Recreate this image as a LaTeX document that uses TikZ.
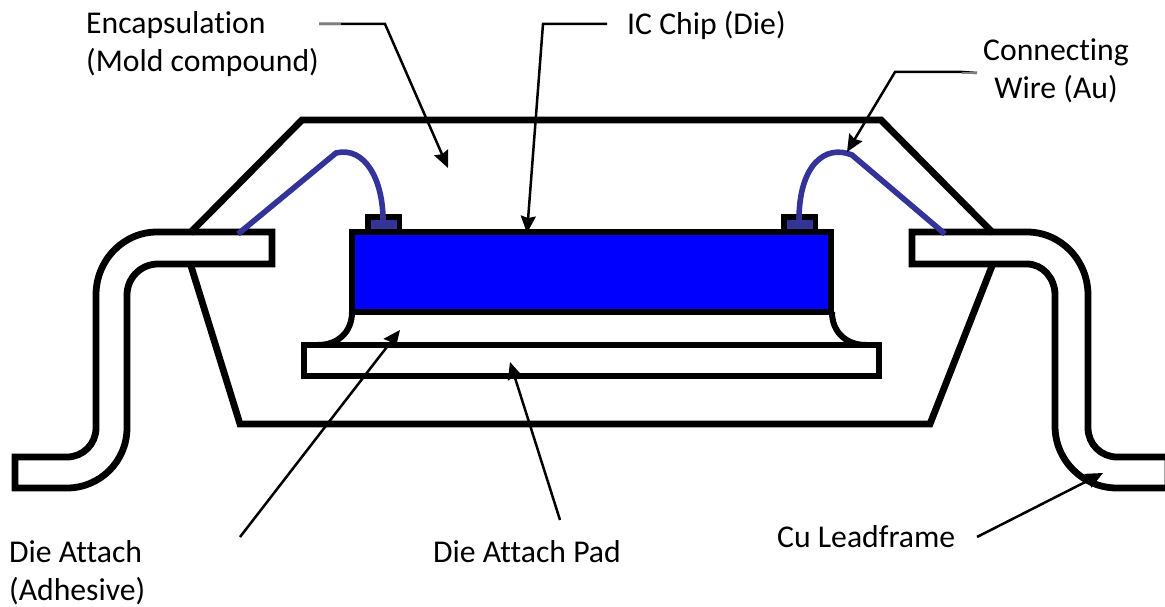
\documentclass[tikz,border=0pt]{standalone}
\usepackage{fontspec}
\usetikzlibrary{arrows.meta}
\setmainfont[Ligatures=CommonOff]{Carlito}
\begin{document}
\begin{tikzpicture}[x=1pt, y=-1pt, line join=miter, >=stealth,
	thick line/.style={line width=6.8pt, draw=black},
	wire/.style={line width=5.6pt, draw=wirecol},
	callout/.style={line width=2.5pt, draw=black, -{Stealth[length=17pt,width=15pt,inset=2pt]}},
	lbl/.style={font=\fontsize{31.7}{38.5}\selectfont, inner sep=0pt, align=left}]
	\definecolor{wirecol}{RGB}{51,51,153}
	\useasboundingbox (0,0) rectangle (1165,607);
	\fill[white] (0,0) rectangle (1165,607);
	% Mold
	\draw[thick line] (190,233)--(302,120)--(881,120)--(993,233);
	\draw[thick line] (191,266)--(240,424)--(930,424)--(992,266);
	% Pad, fillet
	\draw[thick line, fill=white] (304,345) rectangle (879,376);
	\draw[thick line, line width=6pt] (352,312) .. controls (352,332) and (338,345) .. (318,345);
	\draw[thick line, line width=6pt] (832,312) .. controls (832,332) and (846,345) .. (866,345);
	% Chip
	\draw[thick line, fill=black] (368,217) rectangle (399,232);
	\draw[thick line, fill=black] (784,217) rectangle (815,232);
	\draw[thick line, fill=blue] (352,232) rectangle (831,312);
	\fill[wirecol] (371,220) rectangle (397,229);
	\fill[wirecol] (787,220) rectangle (813,229);
	% Leads
	\draw[thick line] (157,264)--(272,264)--(272,232)--(157,232) arc[start angle=270, end angle=180, x radius=61, y radius=63] --(96,428) arc[start angle=0, end angle=90, radius=29] --(15,457)--(15,488)--(67,488) arc[start angle=90, end angle=0, radius=60] --(127,295) arc[start angle=180, end angle=270, radius=31] --cycle;
	\draw[thick line] (1027,264)--(912,264)--(912,232)--(1027,232) arc[start angle=270, end angle=360, x radius=61, y radius=63] --(1088,428) arc[start angle=180, end angle=90, radius=29] --(1168,457)--(1168,488)--(1117,488) arc[start angle=90, end angle=180, radius=62] --(1055,295) arc[start angle=0, end angle=-90, x radius=28, y radius=31] --cycle;
	% Wires
	\draw[wire] (238,234)--(336,153) .. controls (365,146) and (383,180) .. (383,220);
	\draw[wire] (945,234)--(852,155) .. controls (825,144) and (799,165) .. (799,220);
	% Labels
	\node[lbl, anchor=north west] (encap) at (86,11) {Encapsulation\\(Mold compound)};
	\node[lbl, anchor=north west] (chip) at (627,11) {IC Chip (Die)};
	\node[lbl, anchor=north, align=center] (wirelbl) at (1056,38) {Connecting\\Wire (Au)};
	\node[lbl, anchor=north west] (attach) at (9,540) {Die Attach\\(Adhesive)};
	\node[lbl, anchor=north west] (pad) at (433,540) {Die Attach Pad};
	\node[lbl, anchor=north west] (frame) at (777,525) {Cu Leadframe};
	% Callouts
	\coordinate (encapTail) at (319,24);
	\coordinate (encapTip) at (448,168);
	\coordinate (chipTail) at (607,24);
	\coordinate (chipTip) at (527,233);
	\coordinate (wireTail) at (977,73);
	\coordinate (wireTip) at (847,152);
	\coordinate (attachTail) at (240,537);
	\coordinate (attachTip) at (400,330);
	\coordinate (padTail) at (560,520);
	\coordinate (padTip) at (510,362);
	\coordinate (frameTail) at (977,537);
	\coordinate (frameTip) at (1103,473);
	\draw[callout] (encapTail) -- (385,24) -- (encapTip);
	\draw[line width=2.5pt, gray] (encapTail) -- (341,24);
	\draw[callout] (chipTail) -- (543,24) -- (chipTip);
	\draw[callout] (wireTail) -- (962,72) -- (895,72) -- (wireTip);
	\draw[line width=2.5pt, gray] (wireTail) -- (962,73);
	\draw[callout] (attachTail) -- (attachTip);
	\draw[callout] (padTail) -- (padTip);
	\draw[callout] (frameTail) -- (frameTip);
\end{tikzpicture}
\end{document}
